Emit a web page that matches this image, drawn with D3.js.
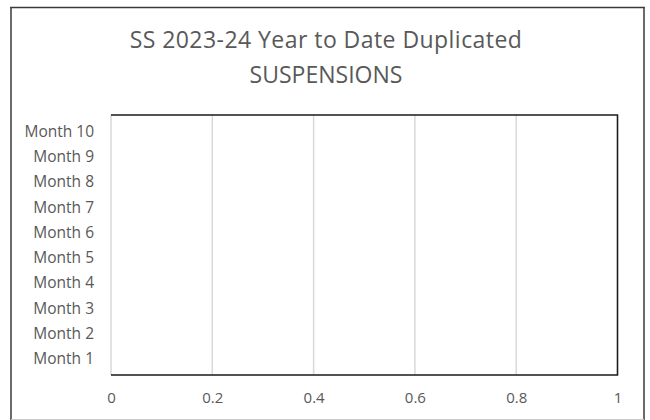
<!DOCTYPE html>
<html>
<head>
<meta charset="utf-8">
<script src="https://cdn.jsdelivr.net/npm/d3@7"></script>
<style>
  html, body { margin: 0; padding: 0; background: #ffffff; }
  svg { display: block; font-family: "Open Sans", "Noto Sans", sans-serif; }
</style>
</head>
<body>
<svg id="chart" width="650" height="420"></svg>
<script>
const titleLines = ["SS 2023-24 Year to Date Duplicated", "SUSPENSIONS"];
const categories = ["Month 1", "Month 2", "Month 3", "Month 4", "Month 5",
                    "Month 6", "Month 7", "Month 8", "Month 9", "Month 10"];
const values = [0, 0, 0, 0, 0, 0, 0, 0, 0, 0];
const xTicks = [0, 0.2, 0.4, 0.6, 0.8, 1];
const xDomain = [0, 1];

const svg = d3.select("#chart");
const plot = { left: 111, right: 617.5, top: 115, bottom: 375 };

// outer chart frame
svg.append("line").attr("x1", 11).attr("x2", 11).attr("y1", 7).attr("y2", 420)
  .attr("stroke", "#3a3a3a").attr("stroke-width", 1.5);
svg.append("line").attr("x1", 10.25).attr("x2", 644.75).attr("y1", 7.5).attr("y2", 7.5)
  .attr("stroke", "#3a3a3a").attr("stroke-width", 1.5);
svg.append("line").attr("x1", 644).attr("x2", 644).attr("y1", 7).attr("y2", 420)
  .attr("stroke", "#3a3a3a").attr("stroke-width", 1.5);
svg.append("line").attr("x1", 11).attr("x2", 644).attr("y1", 419.5).attr("y2", 419.5)
  .attr("stroke", "#c8c8c8").attr("stroke-width", 1);

// title
const title = svg.append("g").attr("fill", "#595959").attr("font-size", 23)
  .attr("text-anchor", "middle");
title.selectAll("text").data(titleLines).join("text")
  .attr("x", 326)
  .attr("y", (d, i) => 48 + i * 35)
  .attr("letter-spacing", (d, i) => i === 0 ? 0.45 : 0)
  .text(d => d);

const x = d3.scaleLinear().domain(xDomain).range([plot.left, plot.right]);
const y = d3.scaleBand().domain(categories).range([plot.bottom, plot.top]).padding(0.3);

// gridlines
svg.append("g").selectAll("line").data(xTicks).join("line")
  .attr("x1", d => x(d)).attr("x2", d => x(d))
  .attr("y1", plot.top).attr("y2", plot.bottom)
  .attr("stroke", "#d9d9d9").attr("stroke-width", 1.5);

// bars (all zero)
svg.append("g").selectAll("rect").data(values).join("rect")
  .attr("x", x(0))
  .attr("y", (d, i) => y(categories[i]))
  .attr("width", d => Math.max(0, x(d) - x(0)))
  .attr("height", y.bandwidth())
  .attr("fill", "#4472c4");

// plot border: top, right, bottom
svg.append("path")
  .attr("d", `M${plot.left},${plot.top}H${plot.right}V${plot.bottom}H${plot.left}`)
  .attr("fill", "none").attr("stroke", "#1a1a1a").attr("stroke-width", 1.5);

// x axis labels
const xAxis = d3.axisBottom(x).tickValues(xTicks).tickSize(0).tickPadding(0)
  .tickFormat(d3.format("~g"));
const gx = svg.append("g").attr("transform", `translate(0,${plot.bottom})`).call(xAxis);
gx.select(".domain").remove();
gx.selectAll("text").attr("fill", "#595959").attr("font-size", 15)
  .attr("font-family", "'Open Sans', sans-serif")
  .attr("dy", null).attr("y", 28);

// y axis labels
const yAxis = d3.axisLeft(y).tickSize(0).tickPadding(0);
const gy = svg.append("g").attr("transform", `translate(94,0)`).call(yAxis);
gy.select(".domain").remove();
gy.selectAll("text").attr("fill", "#595959").attr("font-size", 15.5)
  .attr("font-family", "'Open Sans', sans-serif")
  .attr("x", 0).attr("dy", "0.35em");
</script>
</body>
</html>
